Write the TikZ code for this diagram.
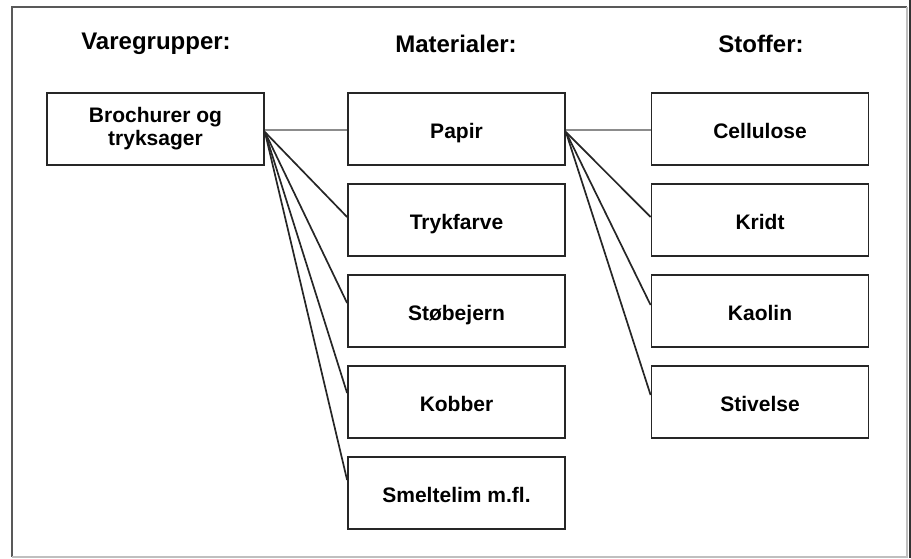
\documentclass[tikz,border=0pt]{standalone}
\usepackage{fontspec}
\setmainfont{Liberation Sans}
\begin{document}
\begin{tikzpicture}[x=1pt,y=-1pt,
  box/.style={draw=black!85, line width=1.8pt, minimum width=217pt, minimum height=72pt,
              inner sep=0pt, align=center, font=\fontsize{21}{23}\selectfont\bfseries},
  one/.style={text height=20pt, text depth=2pt},
  head/.style={font=\fontsize{24}{27}\selectfont\bfseries},
  link/.style={draw=black!85, line width=1.7pt},
  flat/.style={draw=black!45, line width=2.6pt}]
\useasboundingbox (0,0) rectangle (911,558);
% outer frame
\draw[black!65, line width=1.4pt] (12,557) -- (12,7) -- (907,7);
\draw[black!25, line width=1.4pt] (12,557) -- (907,557) -- (907,7);
\draw[black!80, line width=2pt] (910,0) -- (910,558);
% column headings
\node[head] (h1) at (156,44) {Varegrupper:};
\node[head] (h2) at (456,44) {Materialer:};
\node[head] (h3) at (761,44) {Stoffer:};
% boxes
\node[box] (bro) at (155.5,129) {Brochurer og\\tryksager};
\node[box,one] (pap) at (456.5,129) {Papir};
\node[box,one] (tryk) at (456.5,220) {Trykfarve};
\node[box,one] (stob) at (456.5,311) {Støbejern};
\node[box,one] (kob) at (456.5,402) {Kobber};
\node[box,one] (smel) at (456.5,493) {Smeltelim m.fl.};
\node[box,one] (cel) at (760,129) {Cellulose};
\node[box,one] (kri) at (760,220) {Kridt};
\node[box,one] (kao) at (760,311) {Kaolin};
\node[box,one] (sti) at (760,402) {Stivelse};
% connectors
\coordinate (b0) at ([yshift=-1pt]bro.east);
\coordinate (p0) at ([yshift=-1pt]pap.east);
\draw[flat] (b0) -- (pap.west |- b0);
\draw[flat] (p0) -- (cel.west |- p0);
\draw[link] ([yshift=-3pt]bro.east) -- ([yshift=3pt]tryk.west);
\draw[link] ([yshift=-3pt]bro.east) -- ([yshift=8pt]stob.west);
\draw[link] ([yshift=-3pt]bro.east) -- ([yshift=9pt]kob.west);
\draw[link] ([yshift=-3pt]bro.east) -- ([yshift=13pt]smel.west);
\draw[link] ([yshift=-3pt]pap.east) -- ([yshift=3pt]kri.west);
\draw[link] ([yshift=-3pt]pap.east) -- ([yshift=6pt]kao.west);
\draw[link] ([yshift=-3pt]pap.east) -- ([yshift=7pt]sti.west);
\end{tikzpicture}
\end{document}
